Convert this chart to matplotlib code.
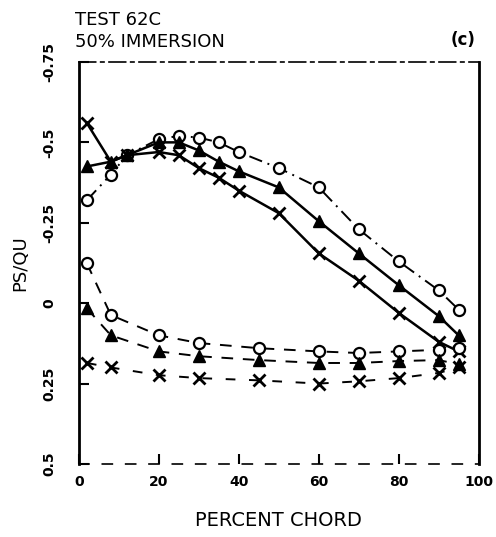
import numpy as np
import matplotlib
matplotlib.use("Agg")
from matplotlib import pyplot as plt

plt.rcParams['font.family'] = ['DejaVu Sans']

# upper surface stations (percent chord)
x_upper = [2, 8, 12, 20, 25, 30, 35, 40, 50, 60, 70, 80, 90, 95]
circ_upper = [-0.32, -0.40, -0.46, -0.51, -0.52, -0.515, -0.50, -0.47, -0.42, -0.36, -0.23, -0.13, -0.04, 0.02]
tri_upper = [-0.425, -0.44, -0.46, -0.50, -0.50, -0.475, -0.44, -0.41, -0.36, -0.255, -0.155, -0.056, 0.04, 0.10]
x_mark_upper = [-0.56, -0.44, -0.46, -0.47, -0.46, -0.42, -0.39, -0.35, -0.28, -0.155, -0.07, 0.03, 0.12, 0.15]

# lower surface stations
x_lower = [2, 8, 20, 30, 45, 60, 70, 80, 90, 95]
circ_lower = [-0.124, 0.037, 0.10, 0.124, 0.14, 0.15, 0.155, 0.15, 0.145, 0.14]
tri_lower = [0.016, 0.10, 0.15, 0.165, 0.177, 0.186, 0.186, 0.18, 0.177, 0.19]
x_mark_lower = [0.186, 0.20, 0.224, 0.233, 0.24, 0.25, 0.243, 0.233, 0.217, 0.20]

xticks = [0, 20, 40, 60, 80, 100]
yticks = [-0.75, -0.5, -0.25, 0, 0.25, 0.5]
ytick_labels = ['-0.75', '-0.5', '-0.25', '0', '0.25', '0.5']

fig = plt.figure(figsize=(4.96, 5.37), dpi=100)
ax = fig.add_axes([0.159, 0.136, 0.806, 0.7486])

k = 'black'
ax.plot(x_upper, circ_upper, color=k, lw=1.4, ls=(0, (7, 3, 1, 3)),
        marker='o', ms=8, mfc='white', mec=k, mew=1.6)
ax.plot(x_upper, tri_upper, color=k, lw=1.8, ls='-',
        marker='^', ms=8, mfc=k, mec=k)
ax.plot(x_upper, x_mark_upper, color=k, lw=1.8, ls='-',
        marker='x', ms=9, mew=2)

ax.plot(x_lower, circ_lower, color=k, lw=1.4, ls=(0, (6, 5)),
        marker='o', ms=8, mfc='white', mec=k, mew=1.6)
ax.plot(x_lower, tri_lower, color=k, lw=1.4, ls=(0, (6, 5)),
        marker='^', ms=8, mfc=k, mec=k)
ax.plot(x_lower, x_mark_lower, color=k, lw=1.4, ls=(0, (5, 7)),
        marker='x', ms=9, mew=2)

ax.set_xlim(0, 100)
ax.set_ylim(0.5, -0.75)

# frame: solid sides, broken top and bottom
for side in ['left', 'right']:
    ax.spines[side].set_linewidth(2)
ax.spines['top'].set_linewidth(1.2)
ax.spines['top'].set_linestyle((0, (10, 3, 2, 3)))
ax.spines['bottom'].set_linewidth(1.2)
ax.spines['bottom'].set_linestyle((0, (6, 8)))

ax.set_xticks(xticks)
ax.set_xticklabels([str(v) for v in xticks], fontsize=10, fontweight='bold')
ax.set_yticks(yticks)
ax.set_yticklabels(ytick_labels, fontsize=10, fontweight='bold',
                   rotation=90, va='center')
ax.tick_params(axis='both', direction='in', length=7, width=1.5, pad=12)
ax.tick_params(axis='y', pad=16)
ax.tick_params(axis='x', pad=8)

ax.set_xlabel('PERCENT CHORD', fontsize=14, labelpad=16)
ax.set_ylabel('PS/QU', fontsize=13, labelpad=10)

fig.text(0.151, 0.962, 'TEST 62C', fontsize=13, va='center', ha='left')
fig.text(0.151, 0.922, '50% IMMERSION', fontsize=13, va='center', ha='left')
fig.text(0.958, 0.925, '(c)', fontsize=12, fontweight='bold', va='center', ha='right')

fig.savefig('out.png', dpi=100)
